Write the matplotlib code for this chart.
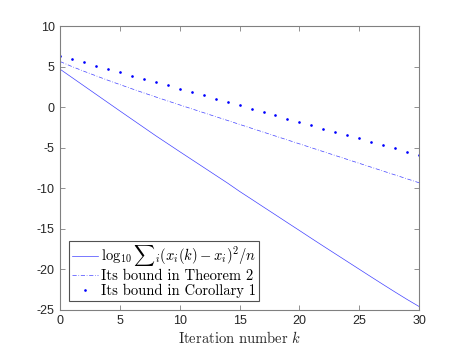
import numpy as np
import matplotlib
matplotlib.use("Agg")
import matplotlib.pyplot as plt

plt.rcParams['mathtext.fontset'] = 'cm'
plt.rcParams['axes.unicode_minus'] = False

# Datos
k = np.arange(0, 31)
error_real = [4.67, 3.64, 2.61, 1.58, 0.55, -0.48, -1.50, -2.52, -3.54, -4.52,
              -5.50, -6.47, -7.44, -8.41, -9.38, -10.40, -11.36, -12.33, -13.29, -14.26,
              -15.22, -16.19, -17.15, -18.10, -19.05, -20.00, -20.95, -21.89, -22.82, -23.73,
              -24.60]
cota_teorema = [5.62, 5.00, 4.42, 3.86, 3.31, 2.78, 2.26, 1.75, 1.25, 0.76,
                0.27, -0.21, -0.69, -1.17, -1.65, -2.13, -2.61, -3.09, -3.57, -4.05,
                -4.53, -5.01, -5.49, -5.97, -6.45, -6.93, -7.41, -7.89, -8.37, -8.85,
                -9.33]
cota_corolario = [6.35, 5.94, 5.53, 5.12, 4.72, 4.31, 3.90, 3.49, 3.08, 2.67,
                  2.26, 1.85, 1.45, 1.04, 0.63, 0.22, -0.19, -0.60, -1.01, -1.42,
                  -1.83, -2.23, -2.64, -3.05, -3.46, -3.87, -4.28, -4.69, -5.10, -5.51,
                  -5.92]
etiquetas = [r'$\log_{10}{\sum}_i(x_i(k)-x_i)^2/n$',
             'Its bound in Theorem 2',
             'Its bound in Corollary 1']

fig = plt.figure(figsize=(4.63, 3.48), dpi=100)
ax = fig.add_axes([0.13, 0.11, 0.775, 0.815])

azul = '#2020ff'
ax.plot(k, error_real, color=azul, lw=0.5, alpha=0.85, label=etiquetas[0])
ax.plot(k, cota_teorema, color=azul, lw=0.5, alpha=0.85, linestyle=(0, (6, 2.5, 1, 2.5)),
        label=etiquetas[1])
ax.plot(k, cota_corolario, color='#0000ff', linestyle='none', marker='.',
        markersize=1.8, label=etiquetas[2])

ax.set_xlim(0, 30)
ax.set_ylim(-25, 10)
ax.set_xticks(np.arange(0, 31, 5))
ax.set_yticks(np.arange(-25, 11, 5))
ax.tick_params(direction='in', length=3.5, width=0.6, colors='0.5',
               labelcolor='0.15', labelsize=9, top=True, right=True, pad=4)
for lab in ax.get_xticklabels() + ax.get_yticklabels():
    lab.set_family('Liberation Sans')
for s in ax.spines.values():
    s.set_color('0.5')
    s.set_linewidth(0.8)

ax.set_xlabel(r'Iteration number $k$', family='cmr10', fontsize=10.5,
              color='0.15', labelpad=2)

leg = ax.legend(loc='lower left', bbox_to_anchor=(0.0245, 0.0317), borderaxespad=0,
                prop={'family': 'cmr10', 'size': 10.5}, fancybox=False,
                edgecolor='0.15', handlelength=1.8, handletextpad=0.2,
                borderpad=0.2, labelspacing=0.05)
leg.get_frame().set_linewidth(0.8)

fig.savefig('out.png', dpi=100)
